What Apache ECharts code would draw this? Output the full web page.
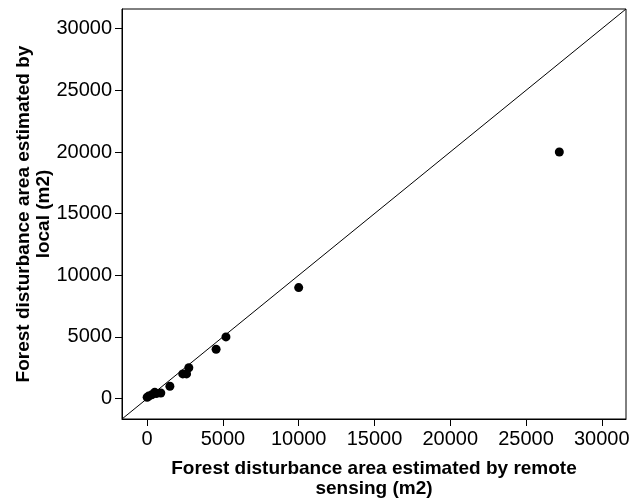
<!DOCTYPE html>
<html>
<head>
<meta charset="utf-8">
<script src="https://cdn.jsdelivr.net/npm/echarts@6/dist/echarts.min.js"></script>
<style>
html,body{margin:0;padding:0;background:#fff;}
#chart{width:629px;height:501px;}
</style>
</head>
<body>
<div id="chart"></div>
<script>
// Data
const remoteSensing = [0, 100, 300, 500, 600, 900, 1500, 2350, 2600, 2750, 4550, 5200, 10000, 27200];
const localEstimate = [100, 200, 300, 500, 400, 450, 1000, 2000, 2000, 2500, 4000, 5000, 9000, 20000];
const tickValues = [0, 5000, 10000, 15000, 20000, 25000, 30000];
const axisMin = -1660;
const axisMax = 31600;
const refLine = [[axisMin, axisMin], [axisMax, axisMax]];
const xTitle = 'Forest disturbance area estimated by remote\nsensing (m2)';
const yTitle = 'Forest disturbance area estimated by\nlocal (m2)';

const points = remoteSensing.map((x, i) => [x, localEstimate[i]]);
const font = 'Liberation Sans, Arial, sans-serif';

const axisCommon = {
  type: 'value',
  min: axisMin,
  max: axisMax,
  splitLine: { show: false },
  axisLine: { show: true, onZero: false, lineStyle: { color: '#000', width: 1 } },
  axisTick: { show: true, length: 7, lineStyle: { color: '#000' }, customValues: tickValues },
  axisLabel: { color: '#000', fontSize: 20, fontFamily: font, customValues: tickValues, formatter: v => String(v) },
  nameLocation: 'middle',
  nameMoveOverlap: false,
  nameTextStyle: { color: '#000', fontSize: 19, fontWeight: 'bold', fontFamily: font, lineHeight: 20 }
};

const chart = echarts.init(document.getElementById('chart'), null, { renderer: 'canvas' });
chart.setOption({
  animation: false,
  backgroundColor: '#fff',
  grid: { left: 122, right: 3, top: 9, bottom: 82, containLabel: false, outerBoundsMode: 'none', show: true, borderColor: '#000', borderWidth: 1, backgroundColor: 'transparent' },
  xAxis: Object.assign({}, axisCommon, {
    name: xTitle,
    nameGap: 40,
    axisLabel: Object.assign({}, axisCommon.axisLabel, { margin: 10 })
  }),
  yAxis: Object.assign({}, axisCommon, {
    name: yTitle,
    nameGap: 68,
    nameRotate: 90,
    axisLabel: Object.assign({}, axisCommon.axisLabel, { margin: 10 })
  }),
  series: [
    {
      type: 'line',
      data: refLine,
      symbol: 'none',
      lineStyle: { color: '#000', width: 1 },
      silent: true,
      z: 1
    },
    {
      type: 'scatter',
      data: points,
      symbol: 'circle',
      symbolSize: 9,
      itemStyle: { color: '#000', opacity: 1 },
      z: 2
    }
  ]
});
</script>
</body>
</html>
